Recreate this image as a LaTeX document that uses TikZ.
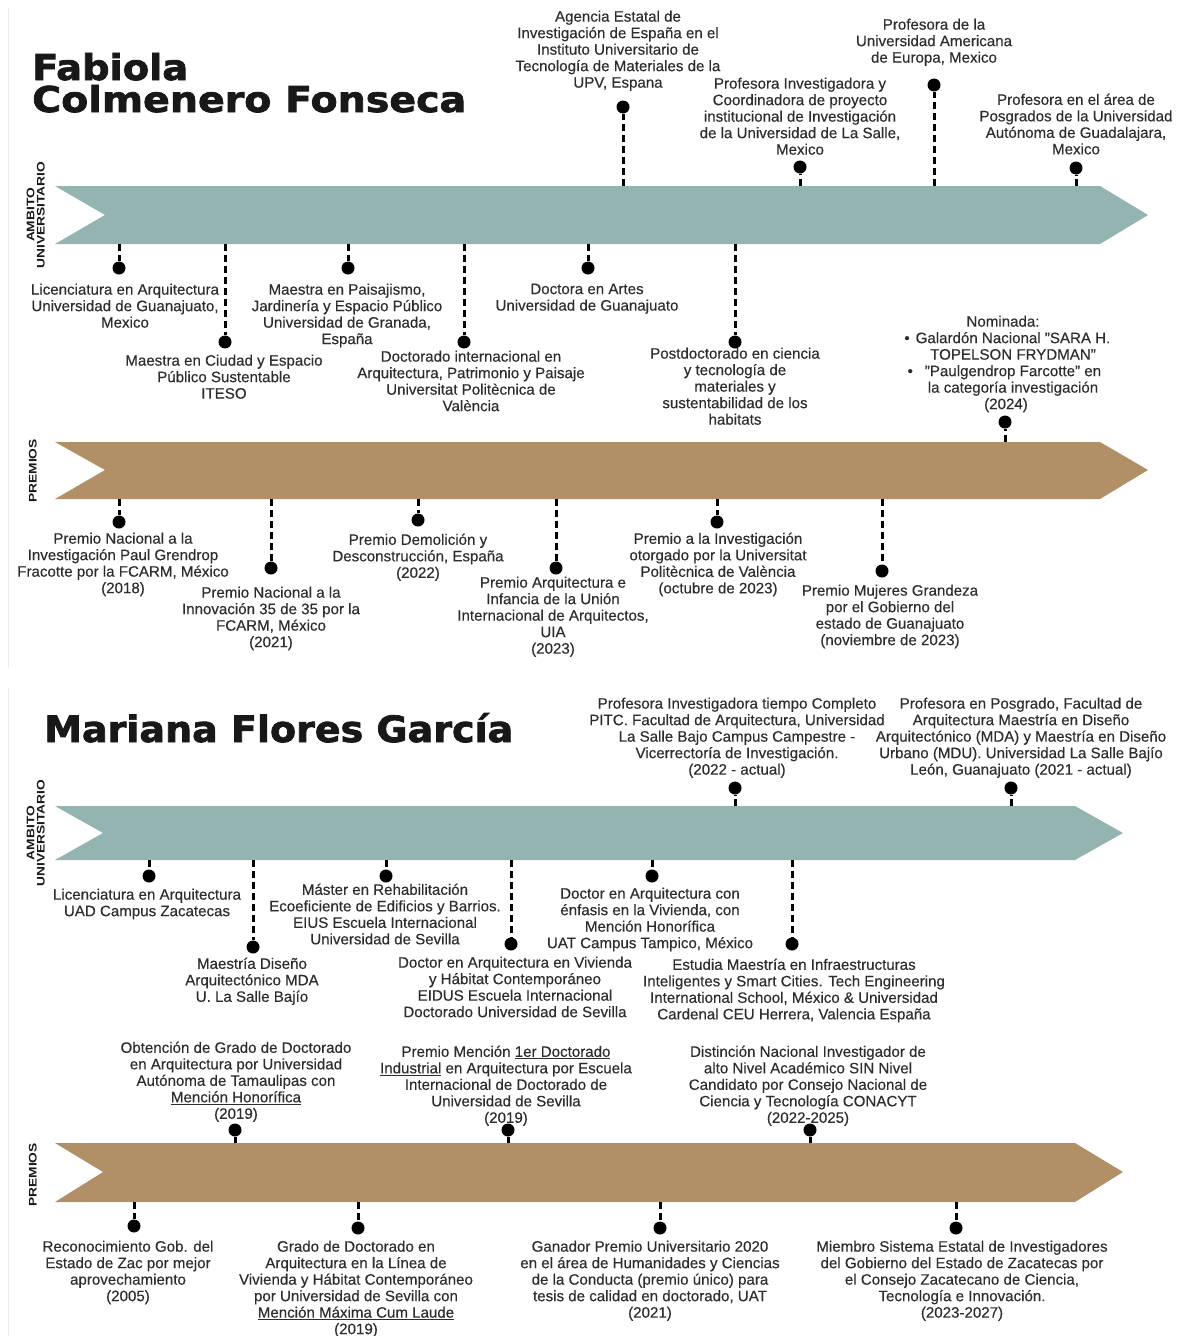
\documentclass[tikz,border=0pt]{standalone}
\usepackage{fontspec}
\setmainfont{Liberation Sans}[FakeBold=0.35]
\newfontfamily\sidefont{Liberation Sans}
\newfontfamily\titlefont{DejaVu Sans}[BoldFeatures={FakeBold=2}]
\definecolor{tealc}{RGB}{147,180,177}
\definecolor{brownc}{RGB}{177,144,104}
\definecolor{textc}{RGB}{45,45,45}
\definecolor{titlec}{RGB}{24,24,24}
\newcommand\tlevent[7]{%
  \coordinate (#1b) at (#2,#4);
  \node[pin] (#1p) at (#2,#3) {};
  \draw[link] (#1b) -- (#1p);
  \node[txt] (#1t) at (#5,#6-7.5) {#7};
}
\newcommand\sidetext[1]{\scalebox{1.25}[1]{\begin{tabular}{@{}c@{}}#1\end{tabular}}}
\begin{document}
\begin{tikzpicture}[x=1pt,y=-1pt,
  txt/.style={align=center, anchor=north, inner sep=0pt, text=textc, font=\fontsize{15.1}{16.5}\selectfont},
  pin/.style={circle, fill=black, minimum size=13pt, inner sep=0pt},
  link/.style={line width=3pt, dash pattern=on 7pt off 4pt, black},
  side/.style={rotate=90, inner sep=0pt, text=titlec, font=\sidefont\bfseries\fontsize{11}{8.5}\selectfont},
  ttl/.style={anchor=base west, inner sep=0pt, text=titlec, font=\titlefont\bfseries},
  faint/.style={draw=black!8, line width=0.8pt}
]
\useasboundingbox (0,0) rectangle (1181,1336);
\draw[faint] (8,8) -- (8,668);
\draw[faint] (8,688) -- (8,1336);

% ---------------- Panel 1 ----------------
\node[ttl] (t1a) at (32,80) {\resizebox{156pt}{27pt}{Fabiola}};
\node[ttl] (t1b) at (32,112) {\resizebox{434pt}{27pt}{Colmenero Fonseca}};

\fill[tealc] (55,186) -- (1100,186) -- (1148,215) -- (1100,244) -- (55,244) -- (105,215) -- cycle;
\fill[brownc] (55,442) -- (1100,442) -- (1148,470) -- (1100,499) -- (55,499) -- (105,470) -- cycle;
\node[side] (s1) at (37,215) {\sidetext{AMBITO\\UNIVERSITARIO}};
\node[side] (s2) at (34,471) {\sidetext{PREMIOS}};

\tlevent{a1}{623}{107}{186}{618}{18}{Agencia Estatal de\\Investigación de España en el\\Instituto Universitario de\\Tecnología de Materiales de la\\UPV, Espana}
\tlevent{a2}{800}{167}{186}{800}{85}{Profesora Investigadora y\\Coordinadora de proyecto\\institucional de Investigación\\de la Universidad de La Salle,\\Mexico}
\tlevent{a3}{934}{85}{186}{934}{26}{Profesora de la\\Universidad Americana\\de Europa, Mexico}
\tlevent{a4}{1076}{168}{186}{1076}{101}{Profesora en el área de\\Posgrados de la Universidad\\Autónoma de Guadalajara,\\Mexico}

\tlevent{b1}{119}{268}{244}{125}{291}{Licenciatura en Arquitectura\\Universidad de Guanajuato,\\Mexico}
\tlevent{b2}{225}{342}{244}{224}{362}{Maestra en Ciudad y Espacio\\Público Sustentable\\ITESO}
\tlevent{b3}{348}{268}{244}{347}{291}{Maestra en Paisajismo,\\Jardinería y Espacio Público\\Universidad de Granada,\\España}
\tlevent{b4}{464}{342}{244}{471}{358}{Doctorado internacional en\\Arquitectura, Patrimonio y Paisaje\\Universitat Politècnica de\\València}
\tlevent{b5}{588}{268}{244}{587}{291}{Doctora en Artes\\Universidad de Guanajuato}
\tlevent{b6}{735}{342}{244}{735}{355}{Postdoctorado en ciencia\\y tecnología de\\materiales y\\sustentabilidad de los\\habitats}

\tlevent{n1}{1005}{422}{442}{1013}{323}{\hspace*{-20pt}Nominada:\\\llap{•\hspace{6pt}}Galardón Nacional "SARA H.\\TOPELSON FRYDMAN"\\\llap{•\hspace{12pt}}"Paulgendrop Farcotte" en\\la categoría investigación\\\hspace*{-14pt}(2024)}

\tlevent{c1}{119}{522}{499}{123}{540}{Premio Nacional a la\\Investigación Paul Grendrop\\Fracotte por la FCARM, México\\(2018)}
\tlevent{c2}{271}{568}{499}{271}{594}{Premio Nacional a la\\Innovación 35 de 35 por la\\FCARM, México\\(2021)}
\tlevent{c3}{418}{520}{499}{418}{541}{Premio Demolición y\\Desconstrucción, España\\(2022)}
\tlevent{c4}{556}{568}{499}{553}{584}{Premio Arquitectura e\\Infancia de la Unión\\Internacional de Arquitectos,\\UIA\\(2023)}
\tlevent{c5}{717}{522}{499}{718}{540}{Premio a la Investigación\\otorgado por la Universitat\\Politècnica de València\\(octubre de 2023)}
\tlevent{c6}{882}{571}{499}{890}{592}{Premio Mujeres Grandeza\\por el Gobierno del\\estado de Guanajuato\\(noviembre de 2023)}

% ---------------- Panel 2 ----------------
\node[ttl] (t2) at (44,742) {\resizebox{469pt}{29pt}{Mariana Flores García}};

\fill[tealc] (55,806) -- (1075,806) -- (1123,833) -- (1075,860) -- (55,860) -- (103,833) -- cycle;
\fill[brownc] (55,1143) -- (1075,1143) -- (1123,1172) -- (1075,1202) -- (55,1202) -- (103,1172) -- cycle;
\node[side] (s3) at (37,833) {\sidetext{AMBITO\\UNIVERSITARIO}};
\node[side] (s4) at (34,1175) {\sidetext{PREMIOS}};

\tlevent{d1}{735}{788}{806}{737}{705}{Profesora Investigadora tiempo Completo\\PITC. Facultad de Arquitectura, Universidad\\La Salle Bajo Campus Campestre -\\Vicerrectoría de Investigación.\\(2022 - actual)}
\tlevent{d2}{1011}{788}{806}{1021}{705}{Profesora en Posgrado, Facultad de\\Arquitectura Maestría en Diseño\\Arquitectónico (MDA) y Maestría en Diseño\\Urbano (MDU). Universidad La Salle Bajío\\León, Guanajuato (2021 - actual)}

\tlevent{e1}{149}{876}{860}{147}{896}{Licenciatura en Arquitectura\\UAD Campus Zacatecas}
\tlevent{e2}{253}{947}{860}{252}{965}{Maestría Diseño\\Arquitectónico MDA\\U. La Salle Bajío}
\tlevent{e3}{386}{876}{860}{385}{891}{Máster en Rehabilitación\\Ecoeficiente de Edificios y Barrios.\\EIUS Escuela Internacional\\Universidad de Sevilla}
\tlevent{e4}{511}{944}{860}{515}{964}{Doctor en Arquitectura en Vivienda\\y Hábitat Contemporáneo\\EIDUS Escuela Internacional\\Doctorado Universidad de Sevilla}
\tlevent{e5}{652}{876}{860}{650}{895}{Doctor en Arquitectura con\\énfasis en la Vivienda, con\\Mención Honorífica\\UAT Campus Tampico, México}
\tlevent{e6}{792}{944}{860}{794}{966}{Estudia Maestría en Infraestructuras\\Inteligentes y Smart Cities. Tech Engineering\\International School, México \& Universidad\\Cardenal CEU Herrera, Valencia España}

\tlevent{f1}{235}{1130}{1143}{236}{1049}{Obtención de Grado de Doctorado\\en Arquitectura por Universidad\\Autónoma de Tamaulipas con\\\underline{Mención Honorífica}\\(2019)}
\tlevent{f2}{508}{1130}{1143}{506}{1053}{Premio Mención \underline{1er Doctorado}\\\underline{Industrial} en Arquitectura por Escuela\\Internacional de Doctorado de\\Universidad de Sevilla\\(2019)}
\tlevent{f3}{810}{1130}{1143}{808}{1053}{Distinción Nacional Investigador de\\alto Nivel Académico SIN Nivel\\Candidato por Consejo Nacional de\\Ciencia y Tecnología CONACYT\\(2022-2025)}

\tlevent{g1}{134}{1226}{1202}{128}{1248}{Reconocimiento Gob. del\\Estado de Zac por mejor\\aprovechamiento\\(2005)}
\tlevent{g2}{358}{1228}{1202}{356}{1248}{Grado de Doctorado en\\Arquitectura en la Línea de\\Vivienda y Hábitat Contemporáneo\\por Universidad de Sevilla con\\\underline{Mención Máxima Cum Laude}\\(2019)}
\tlevent{g3}{660}{1228}{1202}{650}{1248}{Ganador Premio Universitario 2020\\en el área de Humanidades y Ciencias\\de la Conducta (premio único) para\\tesis de calidad en doctorado, UAT\\(2021)}
\tlevent{g4}{956}{1228}{1202}{962}{1248}{Miembro Sistema Estatal de Investigadores\\del Gobierno del Estado de Zacatecas por\\el Consejo Zacatecano de Ciencia,\\Tecnología e Innovación.\\(2023-2027)}
\end{tikzpicture}
\end{document}
